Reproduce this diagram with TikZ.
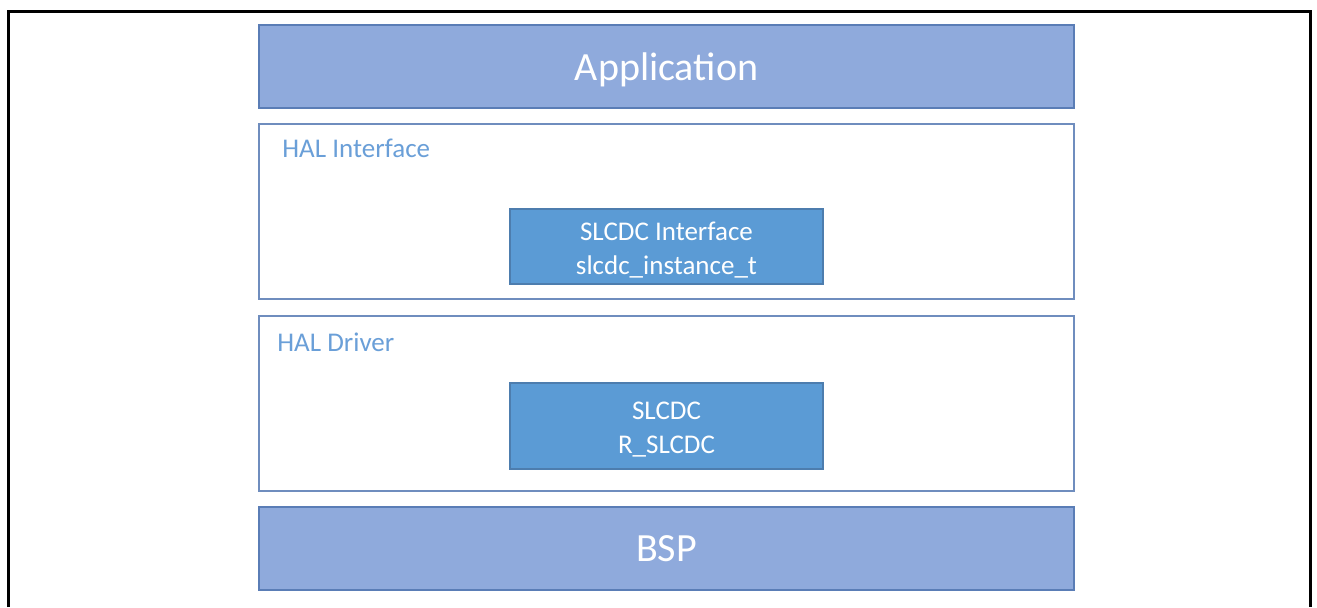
\documentclass[tikz,border=0pt]{standalone}
\usepackage{fontspec}
\setmainfont{Carlito}
\definecolor{layerfill}{HTML}{8FAADC}
\definecolor{layerline}{HTML}{5A7DB6}
\definecolor{modfill}{HTML}{5B9BD5}
\definecolor{modline}{HTML}{4D7DAE}
\definecolor{frameline}{HTML}{6F8DBE}
\definecolor{labeltext}{HTML}{6A9FD8}
\newcommand{\modtext}[2]{\raisebox{-2pt}[\height][\depth]{\begin{tabular}{@{}c@{}}#1\\#2\end{tabular}}}
\tikzset{
  layer/.style={draw=layerline, fill=layerfill, line width=1pt, text=white,
    minimum width=407.5pt, minimum height=41.5pt, inner sep=0, text depth=0pt,
    font=\fontsize{20}{24}\selectfont},
  halframe/.style={draw=frameline, fill=white, line width=1pt,
    minimum width=407.5pt, minimum height=87.5pt, inner sep=0},
  module/.style={draw=modline, fill=modfill, line width=0.8pt, text=white,
    minimum width=156.5pt, inner sep=0,
    font=\fontsize{13.5}{17}\selectfont},
  hallabel/.style={text=labeltext, anchor=west, inner sep=0,
    font=\fontsize{13.5}{16}\selectfont}
}
\begin{document}
\begin{tikzpicture}[x=0.5pt,y=-0.5pt]
\useasboundingbox (0,0) rectangle (1317,607);
% Outer frame
\draw[line width=1.5pt] (8,607) |- (1310,11) -- (1310,607);
% Application
\node[layer] (app) at (666.5,66.5) {Application};
% HAL Interface
\node[halframe] (halif) at (666.5,211.5) {};
\node[hallabel] (haliflabel) at (282,148) {HAL Interface};
\node[module, minimum height=37.5pt] (slcdcif) at (666.5,246.5) {\modtext{SLCDC Interface}{slcdc\_instance\_t}};
% HAL Driver
\node[halframe] (haldrv) at (666.5,403.5) {};
\node[hallabel] (haldrvlabel) at (277,342) {HAL Driver};
\node[module, minimum height=43pt] (slcdcdrv) at (666.5,426) {\modtext{SLCDC}{R\_SLCDC}};
% BSP
\node[layer] (bsp) at (666.5,548.5) {BSP};
\end{tikzpicture}
\end{document}
